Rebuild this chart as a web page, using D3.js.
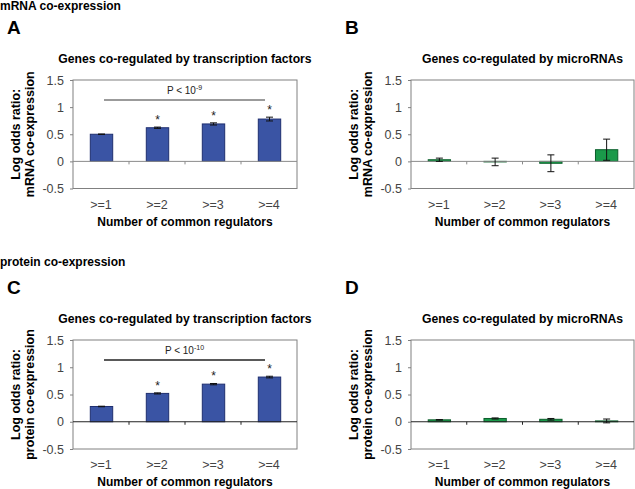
<!DOCTYPE html>
<html><head><meta charset="utf-8">
<script src="https://cdn.jsdelivr.net/npm/d3@7"></script>
<style>body{margin:0;background:#fff}svg{display:block}text{font-family:"Liberation Sans",Arial,sans-serif}</style>
</head><body>
<svg id="c" width="635" height="489"></svg>
<script>
const categories = [">=1", ">=2", ">=3", ">=4"];
const yTicks = [1.5, 1, 0.5, 0, -0.5];
const mrnaTF = [0.50, 0.62, 0.69, 0.78];
const mrnaTFErr = [0.005, 0.012, 0.02, 0.035];
const mrnaMiR = [0.03, -0.01, -0.035, 0.215];
const mrnaMiRErr = [0.03, 0.07, 0.155, 0.195];
const protTF = [0.28, 0.52, 0.69, 0.82];
const protTFErr = [0.005, 0.01, 0.012, 0.015];
const protMiR = [0.035, 0.06, 0.045, 0.015];
const protMiRErr = [0.005, 0.01, 0.015, 0.035];
const starsTF = [false, true, true, true];

const svg = d3.select("#c");
const BLUE = "#3a54a4", BLUE_S = "#1f2f70", GREEN = "#1a9a4a", GREEN_S = "#0b5e2b";

svg.append("text").attr("x", 0).attr("y", 10).attr("font-size", 12).attr("font-weight", "bold").text("mRNA co-expression");
svg.append("text").attr("x", 0).attr("y", 266).attr("font-size", 12).attr("font-weight", "bold").text("protein co-expression");

function panel(o) {
  const g = svg.append("g");
  const x = d3.scaleBand().domain(categories).range([o.x0, o.x1]).paddingInner(0.6).paddingOuter(0.3);
  const y = d3.scaleLinear().domain([-0.5, 1.5]).range([o.y1, o.y0]);
  const step = x.step();
  g.append("text").attr("x", o.x0 - 66).attr("y", o.y0 - 46).attr("font-size", 19).attr("font-weight", "bold").text(o.letter);
  g.append("text").attr("x", (o.x0 + o.x1) / 2).attr("y", o.y0 - 17).attr("text-anchor", "middle")
    .attr("font-size", 12.2).attr("font-weight", "bold").text(o.title);
  g.append("rect").attr("x", o.x0).attr("y", o.y0).attr("width", o.x1 - o.x0).attr("height", o.y1 - o.y0)
    .attr("fill", "none").attr("stroke", "#808080").attr("stroke-width", 1);
  const ya = g.append("g").attr("transform", `translate(${o.x0},0)`)
    .call(d3.axisLeft(y).tickValues(yTicks).tickSize(3).tickPadding(6).tickFormat(d => String(d)));
  ya.select(".domain").remove();
  ya.selectAll("line").attr("stroke", "#808080");
  ya.selectAll("text").attr("font-size", 12.5).attr("fill", "#444").attr("font-family", '"Liberation Sans",Arial,sans-serif');
  const yc = (o.y0 + o.y1) / 2;
  [["Log odds ratio:", o.x0 - 53], [o.ytitle, o.x0 - 39]].forEach(([t, xx]) => {
    g.append("text").attr("transform", `translate(${xx},${yc}) rotate(-90)`).attr("text-anchor", "middle")
      .attr("font-size", 12.5).attr("font-weight", "bold").text(t);
  });
  g.selectAll("rect.bar").data(o.values).join("rect").attr("class", "bar")
    .attr("x", (d, i) => x(categories[i]) + 0.5).attr("width", x.bandwidth())
    .attr("y", d => y(Math.max(0, d))).attr("height", d => Math.abs(y(d) - y(0)))
    .attr("fill", o.fill).attr("stroke", o.stroke).attr("stroke-width", 1);
  g.append("line").attr("x1", o.x0).attr("x2", o.x1).attr("y1", y(0)).attr("y2", y(0)).attr("stroke", o.zeroColor);
  d3.range(1, categories.length).forEach(i => {
    const xx = o.x0 + i * step;
    g.append("line").attr("x1", xx).attr("x2", xx).attr("y1", y(0)).attr("y2", y(0) + 3).attr("stroke", o.zeroColor);
  });
  o.values.forEach((v, i) => {
    const cx = x(categories[i]) + x.bandwidth() / 2 + 0.5, e = o.err[i];
    const yt = y(v + e), yb = y(v - e);
    g.append("line").attr("x1", cx).attr("x2", cx).attr("y1", yt).attr("y2", yb).attr("stroke", "#111");
    [yt, yb].forEach(yy => g.append("line").attr("x1", cx - 3.5).attr("x2", cx + 3.5).attr("y1", yy).attr("y2", yy).attr("stroke", "#111"));
    if (o.stars && o.stars[i]) {
      g.append("text").attr("x", cx).attr("y", yt - 3).attr("text-anchor", "middle").attr("font-size", 12).attr("fill", "#222").text("*");
    }
  });
  categories.forEach(c => {
    g.append("text").attr("x", x(c) + x.bandwidth() / 2).attr("y", o.y1 + 20).attr("text-anchor", "middle")
      .attr("font-size", 12.5).attr("fill", "#444").text(c);
  });
  g.append("text").attr("x", (o.x0 + o.x1) / 2).attr("y", o.y1 + 37).attr("text-anchor", "middle")
    .attr("font-size", 12).attr("font-weight", "bold").text("Number of common regulators");
  if (o.p) {
    const xa = x(categories[0]) + x.bandwidth() / 2 + 3, xb = x(categories[3]) + x.bandwidth() / 2 - 4;
    g.append("line").attr("x1", xa).attr("x2", xb).attr("y1", o.y0 + 20).attr("y2", o.y0 + 20).attr("stroke", o.pColor).attr("stroke-width", 1.5);
    const t = g.append("text").attr("x", (xa + xb) / 2).attr("y", o.y0 + 14).attr("text-anchor", "middle").attr("font-size", 10).attr("fill", "#222");
    t.append("tspan").text("P < 10");
    t.append("tspan").attr("dy", -4).attr("font-size", 7).text(o.p);
  }
}

panel({x0: 73, x1: 297, y0: 80, y1: 188.5, letter: "A", title: "Genes co-regulated by transcription factors", ytitle: "mRNA co-expression",
  values: mrnaTF, err: mrnaTFErr, fill: BLUE, stroke: BLUE_S, zeroColor: "#8a8a8a", stars: starsTF, p: "-9", pColor: "#7a7a7a"});
panel({x0: 411, x1: 634, y0: 80, y1: 188.5, letter: "B", title: "Genes co-regulated by microRNAs", ytitle: "mRNA co-expression",
  values: mrnaMiR, err: mrnaMiRErr, fill: GREEN, stroke: GREEN_S, zeroColor: "#8a8a8a"});
panel({x0: 73, x1: 297, y0: 340, y1: 449, letter: "C", title: "Genes co-regulated by transcription factors", ytitle: "protein co-expression",
  values: protTF, err: protTFErr, fill: BLUE, stroke: BLUE_S, zeroColor: "#222", stars: starsTF, p: "-10", pColor: "#222"});
panel({x0: 411, x1: 634, y0: 340, y1: 449, letter: "D", title: "Genes co-regulated by microRNAs", ytitle: "protein co-expression",
  values: protMiR, err: protMiRErr, fill: GREEN, stroke: GREEN_S, zeroColor: "#222"});
</script>
</body></html>
